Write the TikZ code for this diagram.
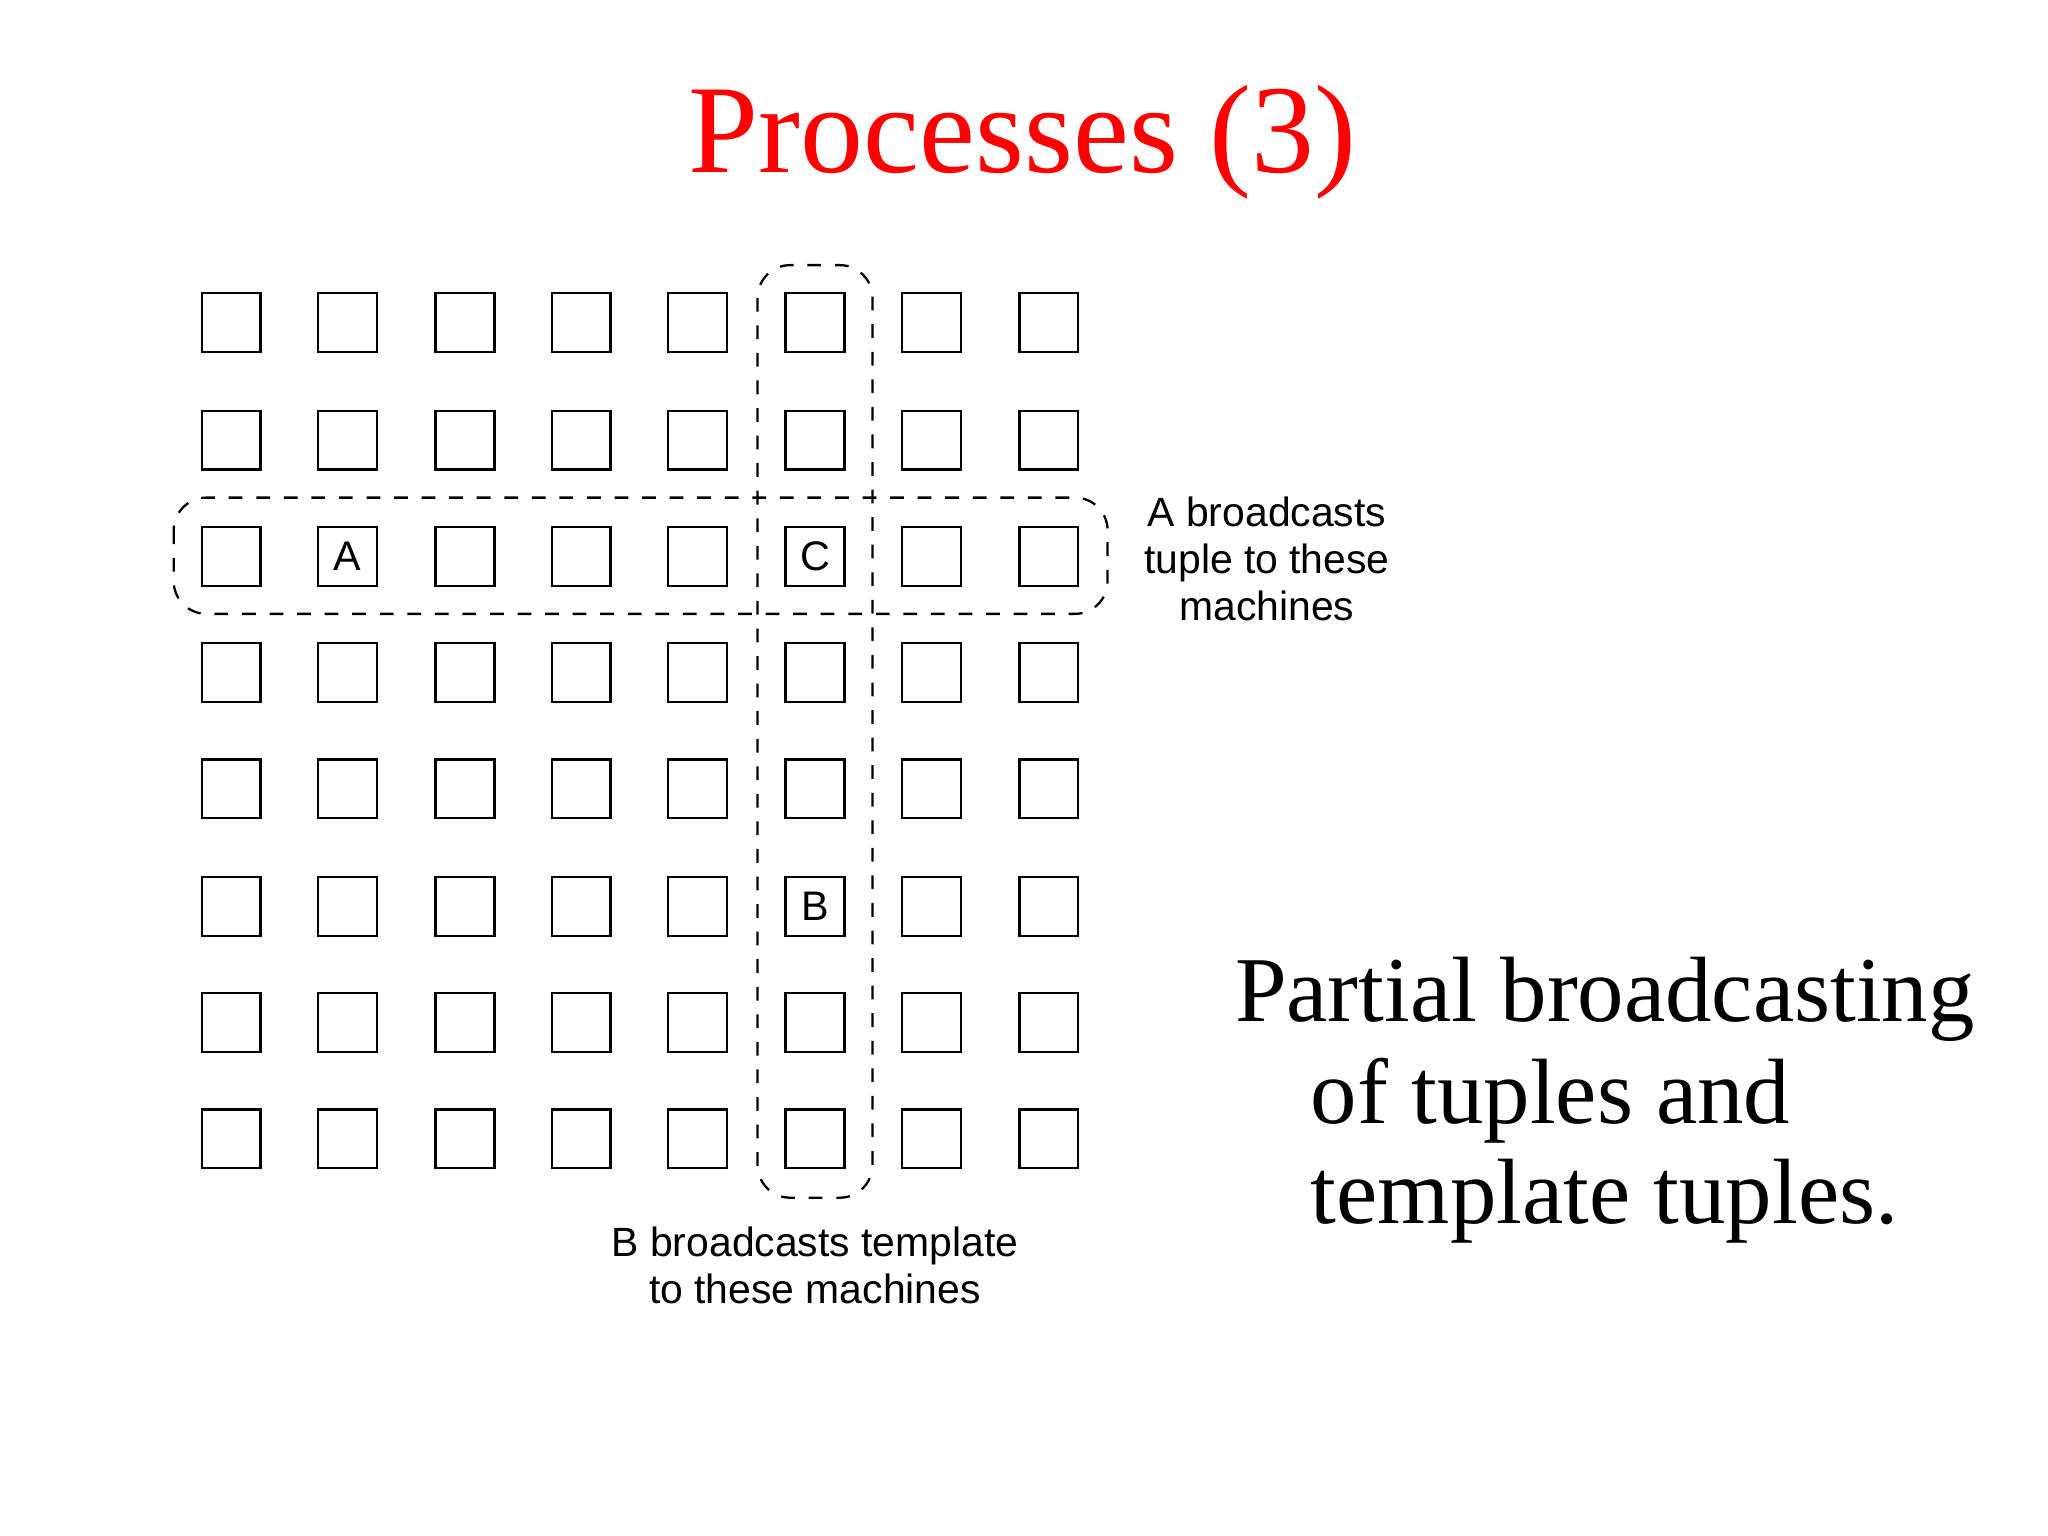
\documentclass[tikz,border=0pt]{standalone}
\usepackage{fontspec}
\setmainfont{Liberation Serif}
\newfontfamily\sansf{Liberation Sans}
\begin{document}
\begin{tikzpicture}[x=0.01cm,y=-0.01cm,
  box/.style={draw,line width=0.5pt,minimum size=0.45cm,inner sep=0pt,font=\sansf\fontsize{9}{10}\selectfont},
  grp/.style={draw,dashed,line width=0.5pt,rounded corners=0.25cm},
  lab/.style={font=\sansf\fontsize{8.9}{10.2}\selectfont,align=center},
  big/.style={font=\fontsize{20.2}{22}\selectfont,anchor=base west,inner sep=0pt}]
\useasboundingbox (0,0) rectangle (1568,1176);
\node[text=red,font=\fontsize{27.4}{30}\selectfont] (title) at (783,109) {Processes (3)};
\foreach \i/\x in {1/177,2/266,3/356,4/445,5/534,6/624,7/713,8/803}
  \foreach \j/\y in {1/247,2/337,3/426,4/515,5/604,6/694,7/783,8/872}
    \node[box] (m\i\j) at (\x,\y) {};
\node[box] at (m23) {A};
\node[box] at (m63) {C};
\node[box] at (m66) {B};
\draw[grp] (133,381) rectangle (848,470);
\draw[grp] (580,203) rectangle (668,917);
\node[lab] (la) at (970,428) {A broadcasts\\tuple to these\\machines};
\node[lab] (lb) at (624,969) {B broadcasts template\\to these machines};
\node[big] (p1) at (945,782) {Partial broadcasting};
\node[big] (p2) at (1003,860) {of tuples and};
\node[big] (p3) at (1003,937) {template tuples.};
\end{tikzpicture}
\end{document}
